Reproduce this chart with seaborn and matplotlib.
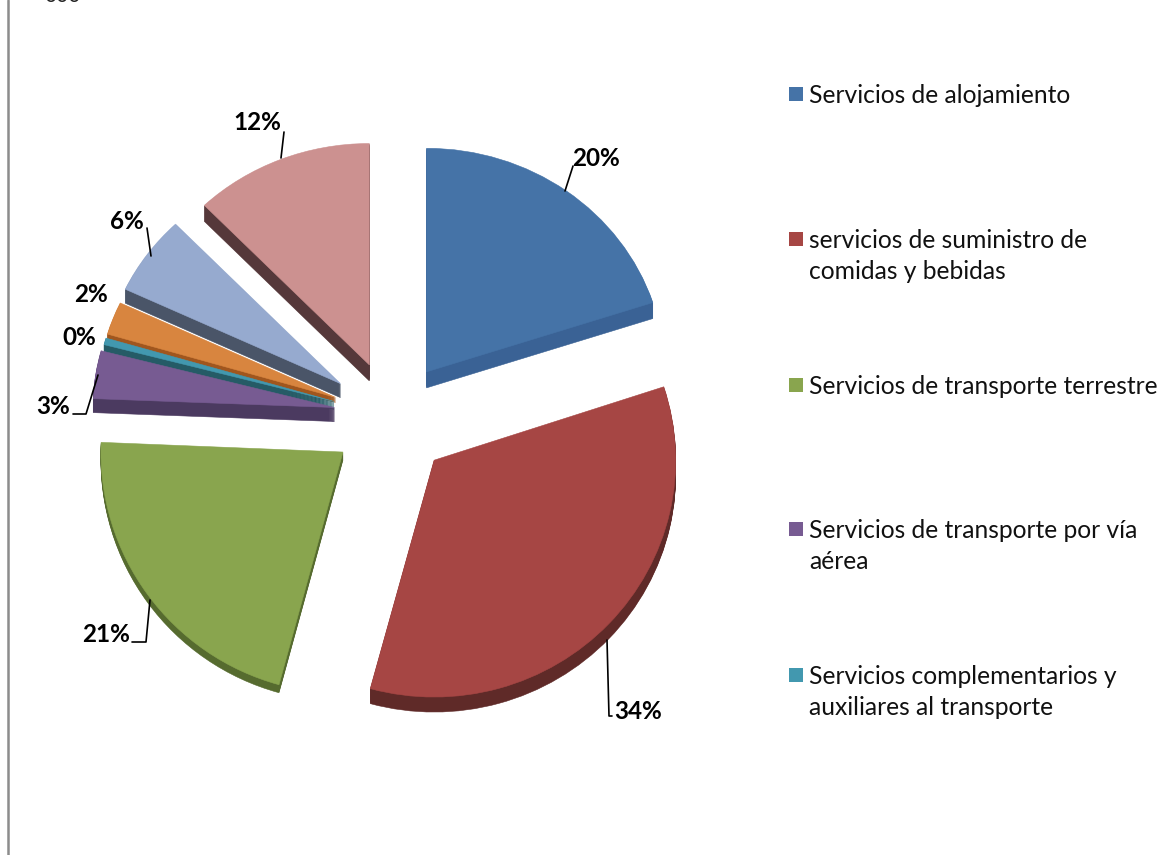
import matplotlib
matplotlib.use("Agg")
import matplotlib.pyplot as plt
import seaborn as sns
from matplotlib.patches import Rectangle
from matplotlib.transforms import Affine2D

sns.set_theme(style="white")
plt.rcParams["font.family"] = ["Lato", "DejaVu Sans"]

categories = [
    "Servicios de alojamiento",
    "servicios de suministro de\ncomidas y bebidas",
    "Servicios de transporte terrestre",
    "Servicios de transporte por vía\naérea",
    "Servicios complementarios y\nauxiliares al transporte",
    "Otros servicios",
    "Servicios culturales",
    "Otros",
]
values = [20.0, 34.3, 21.4, 3.49, 0.49, 2.4, 5.8, 12.2]
top_colors = ["#4573a7", "#a64644", "#89a54e", "#775b92", "#4298af", "#d8853f", "#96aacf", "#cc9190"]
side_colors = ["#3a6295", "#5f2a28", "#566b2f", "#4b3a60", "#255b66", "#a0561e", "#4a5568", "#55383a"]
explode = [52, 72, 62, 54, 54, 53, 56, 50]
draw_rank = [3, 7, 6, 5, 4, 3, 2, 1]
depths = [16, 15, 8, 14, 8, 5, 14, 16]
# fine placement of each slice, in image pixels (x right, y down)
nudge_x = [12, -2, 9, 4, 2, 1, 2, 4]
nudge_y = [1, 4, 8, 5, 5, 5, 4, -2]
scale_x = [1.0, 1.015, 1.017, 1.015, 1.0, 1.0, 1.0, 1.0]
scale_y = [1.01, 1.07, 1.09, 1.0, 1.0, 1.0, 1.0, 1.0]
radius = 238
squash = 0.93

W, H = 1173, 855
fig = plt.figure(figsize=(W / 100, H / 100), dpi=100, facecolor="white")

ax = fig.add_axes([0, 0, 1, 1])
cx, cy = 384, (H - 410) / squash
for d in range(max(depths), -1, -1):
    wedges, _ = ax.pie(
        values,
        colors=top_colors if d == 0 else side_colors,
        explode=explode,
        startangle=90,
        counterclock=False,
        radius=radius,
        center=(cx, cy),
        normalize=True,
    )
    for i, w in enumerate(wedges):
        x, y = w.center
        move = Affine2D().translate(-x, -y).scale(scale_x[i], scale_y[i])
        move = move.translate(x + nudge_x[i], y - (nudge_y[i] + d) / squash)
        w.set_transform(move + ax.transData)
        w.set_edgecolor(w.get_facecolor())
        w.set_linewidth(0.4)
        w.set_zorder(draw_rank[i] + (1 if d == 0 else 0))
        w.set_visible(d <= depths[i])
ax.set_aspect("auto")
ax.set_xlim(0, W)
ax.set_ylim(0, H / squash)
ax.axis("off")

# overlay in image pixels for labels and legend
ov = fig.add_axes([0, 0, 1, 1], facecolor="none")
ov.set_xlim(0, W)
ov.set_ylim(H, 0)
ov.axis("off")

ov.plot([8, 8], [0, H], color="#8c8c8c", lw=1.8, clip_on=False)
ov.text(44, 2, "000", fontsize=15, color="#222222", ha="left", va="baseline", clip_on=False)

pct = [f"{v:.0f}%" for v in values]
label_xy = [(596, 158), (638, 711), (106, 634), (53, 406), (79, 337), (91, 294), (127, 221), (257, 123)]
leaders = [
    [(573, 166), (565, 191)],
    [(607, 640), (609, 716), (612, 716)],
    [(150, 600), (146, 642), (132, 642)],
    [(98, 375), (86, 414), (73, 414)],
    None,
    None,
    [(147, 228), (151, 256)],
    [(284, 132), (281, 158)],
]
for txt, (lx, ly), seg in zip(pct, label_xy, leaders):
    ov.text(lx, ly, txt, fontsize=17.5, fontweight="bold", color="black", ha="center", va="center", zorder=30)
    if seg:
        ov.plot([p[0] for p in seg], [p[1] for p in seg], color="black", lw=1.2, zorder=29)

legend_y = [94, 239, 385, 529, 675]
for name, color, y in zip(categories[:5], top_colors[:5], legend_y):
    ov.add_patch(Rectangle((789, y - 7), 14, 14, facecolor=color, edgecolor="none"))
    ov.text(809, y - 10, name, fontsize=17.7, color="#111111", ha="left", va="top", linespacing=1.44)

fig.savefig("out.png", dpi=100, facecolor="white")
